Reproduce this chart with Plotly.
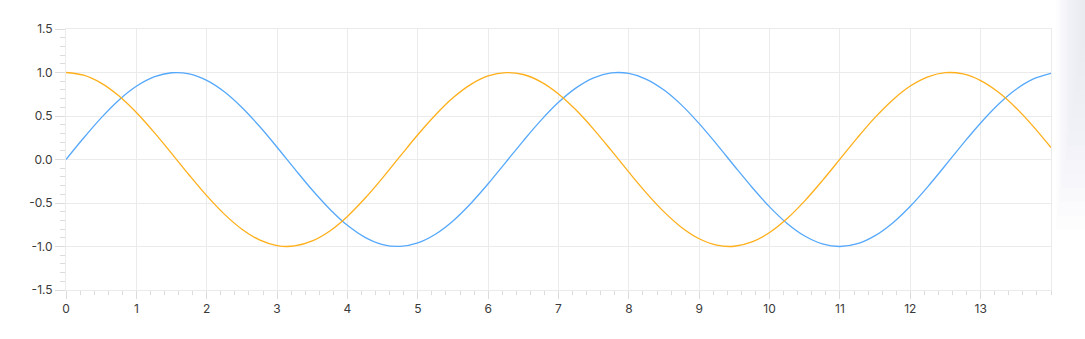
import plotly.graph_objects as go

x_vals = [0, 0.25, 0.5, 0.75, 1, 1.25, 1.5, 1.75, 2, 2.25, 2.5, 2.75, 3, 3.25, 3.5, 3.75,
          4, 4.25, 4.5, 4.75, 5, 5.25, 5.5, 5.75, 6, 6.25, 6.5, 6.75, 7, 7.25, 7.5, 7.75,
          8, 8.25, 8.5, 8.75, 9, 9.25, 9.5, 9.75, 10, 10.25, 10.5, 10.75, 11, 11.25, 11.5, 11.75,
          12, 12.25, 12.5, 12.75, 13, 13.25, 13.5, 13.75, 14]

sin_vals = [0.000, 0.247, 0.479, 0.682, 0.841, 0.949, 0.997, 0.984, 0.909, 0.778, 0.598, 0.382,
            0.141, -0.108, -0.351, -0.571, -0.757, -0.895, -0.978, -0.999, -0.959, -0.859, -0.706, -0.508,
            -0.279, -0.033, 0.215, 0.450, 0.657, 0.823, 0.938, 0.995, 0.989, 0.922, 0.798, 0.625,
            0.412, 0.174, -0.075, -0.319, -0.544, -0.735, -0.880, -0.970, -1.000, -0.968, -0.875, -0.729,
            -0.537, -0.311, -0.066, 0.183, 0.420, 0.632, 0.804, 0.926, 0.991]

cos_vals = [1.000, 0.969, 0.878, 0.732, 0.540, 0.315, 0.071, -0.178, -0.416, -0.628, -0.801, -0.924,
            -0.990, -0.994, -0.936, -0.821, -0.654, -0.446, -0.211, 0.038, 0.284, 0.512, 0.709, 0.861,
            0.960, 0.999, 0.977, 0.893, 0.754, 0.568, 0.347, 0.104, -0.146, -0.386, -0.602, -0.781,
            -0.911, -0.985, -0.997, -0.948, -0.839, -0.678, -0.475, -0.243, 0.004, 0.252, 0.484, 0.685,
            0.844, 0.950, 0.998, 0.983, 0.907, 0.775, 0.595, 0.378, 0.137]

x_ticks = [0, 1, 2, 3, 4, 5, 6, 7, 8, 9, 10, 11, 12, 13]
y_ticks = [-1.5, -1.0, -0.5, 0.0, 0.5, 1.0, 1.5]
y_tick_text = ["-1.5", "-1.0", "-0.5", "0.0", "0.5", "1.0", "1.5"]

fig = go.Figure()
fig.add_trace(go.Scatter(x=x_vals, y=sin_vals, mode="lines", line=dict(color="#55a8fb", width=1.3, shape="spline"),
                         showlegend=False, hoverinfo="skip"))
fig.add_trace(go.Scatter(x=x_vals, y=cos_vals, mode="lines", line=dict(color="#ffaf1a", width=1.3, shape="spline"),
                         showlegend=False, hoverinfo="skip"))

grid = "#ebebeb"
tickc = "#dcdcdc"
fig.update_layout(
    width=1085, height=339,
    margin=dict(l=66, r=34, t=29, b=49),
    paper_bgcolor="white", plot_bgcolor="white",
    font=dict(family="Inter, Lato, sans-serif", size=12, color="#3a3a3a"),
    xaxis=dict(range=[0, 14], tickvals=x_ticks, ticktext=[str(v) for v in x_ticks],
               showgrid=True, gridcolor=grid, gridwidth=1, zeroline=False,
               showline=True, linecolor=grid, linewidth=1, mirror=True,
               ticks="outside", ticklen=8, tickcolor=tickc, tickwidth=1,
               minor=dict(dtick=0.2, ticks="outside", ticklen=4, tickcolor=tickc, showgrid=False),
               fixedrange=True),
    yaxis=dict(range=[-1.5, 1.5], tickvals=y_ticks, ticktext=y_tick_text,
               showgrid=True, gridcolor=grid, gridwidth=1, zeroline=False,
               showline=True, linecolor=grid, linewidth=1, mirror=True,
               ticks="outside", ticklen=10, tickcolor=tickc, tickwidth=1,
               minor=dict(dtick=0.1, ticks="outside", ticklen=5, tickcolor=tickc, showgrid=False),
               fixedrange=True),
)

# soft shadow at the right edge of the page, fading downwards
pw, ph = 985.0, 261.0
for i in range(14):
    left_px = 1056 + i * 2
    bottom_px = 230 - i * 14
    fig.add_shape(type="rect", xref="paper", yref="paper",
                  x0=(left_px - 66) / pw, x1=(1085 - 66) / pw,
                  y0=(290 - bottom_px) / ph, y1=(290 + 1) / ph + 28 / ph,
                  fillcolor="rgba(228,231,238,0.07)", line=dict(width=0), layer="below")

fig.write_html("out.html")
